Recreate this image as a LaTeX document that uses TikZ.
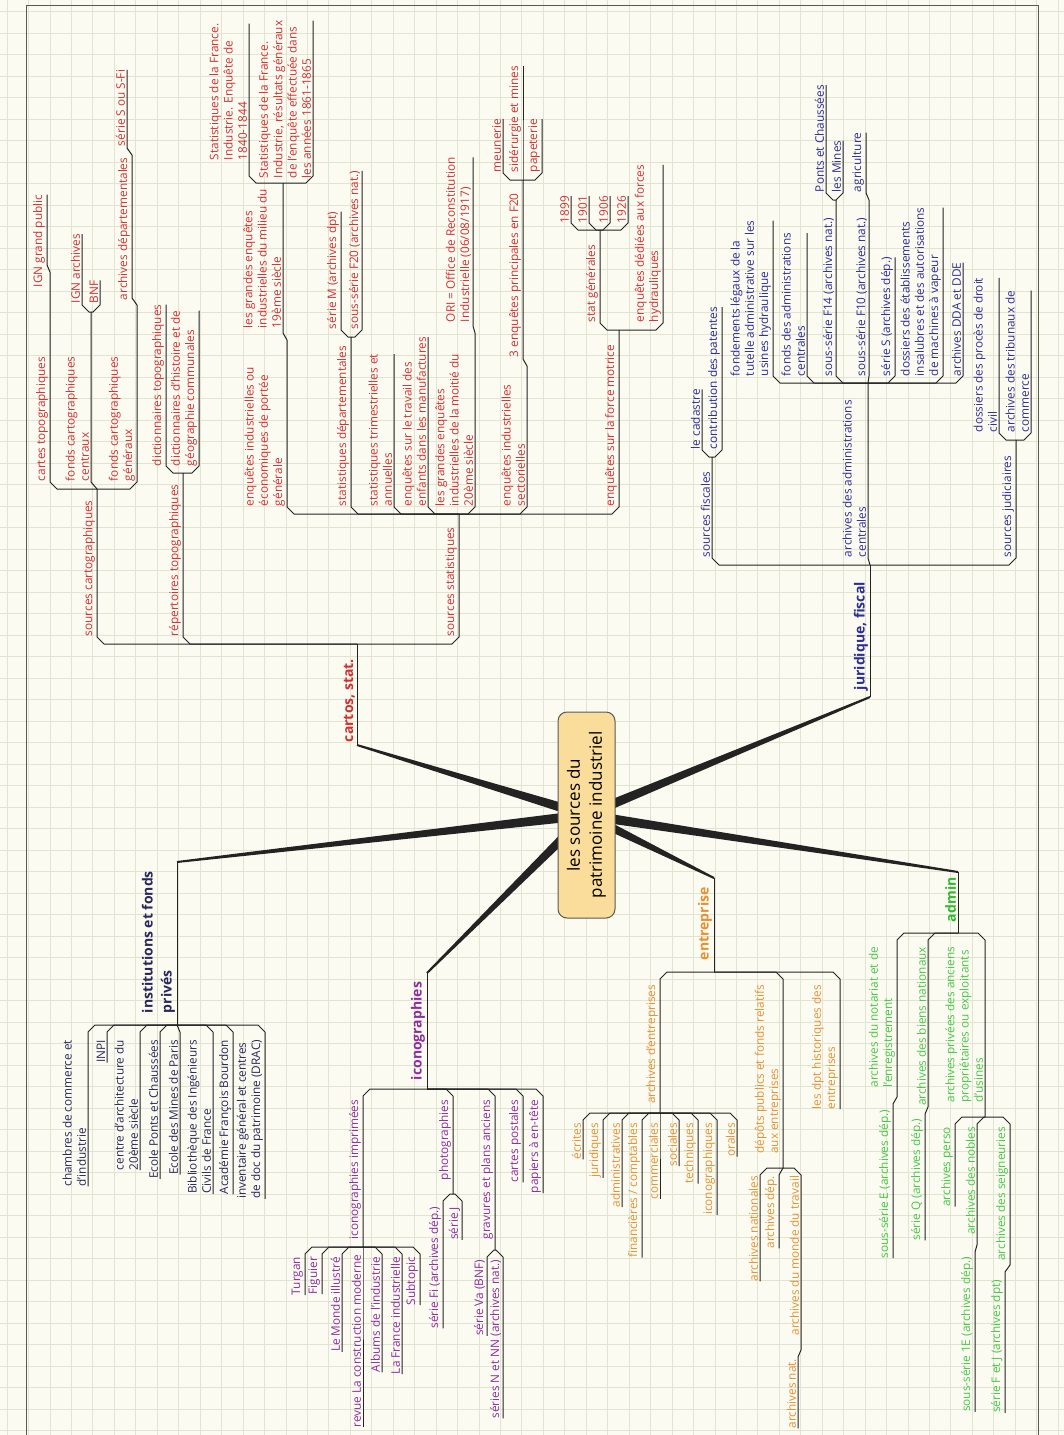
\documentclass[tikz,border=0pt]{standalone}
\usepackage{fontspec}
\setmainfont{Open Sans}
\usetikzlibrary{calc}
\definecolor{cRed}{RGB}{205,50,50}
\definecolor{cNavy}{RGB}{45,45,150}
\definecolor{cDark}{RGB}{40,40,90}
\definecolor{cPurp}{RGB}{140,45,160}
\definecolor{cOr}{RGB}{228,145,50}
\definecolor{cGr}{RGB}{70,200,70}
\definecolor{cGrD}{RGB}{50,185,50}
\definecolor{bgcol}{RGB}{252,251,241}
\definecolor{gridcol}{RGB}{224,228,208}
\definecolor{lncol}{RGB}{35,35,35}
\definecolor{framecol}{RGB}{90,90,80}
\definecolor{centfill}{RGB}{250,220,155}
\newcommand\tpfont{\fontsize{11.8}{14.3}\selectfont}
\newcommand\mnfont{\fontsize{14}{19}\selectfont\bfseries}
\tikzset{
  cline/.style={draw=lncol,line width=1pt,line join=round},
  topic/.style={rotate=90,inner sep=0pt,outer sep=0pt,align=left,font=\tpfont},
  maintopic/.style={topic,font=\mnfont},
}
\newcommand\conn[5]{%
  \pgfmathsetmacro\cdx{#3-(#1)}%
  \pgfmathsetmacro\csg{(\cdx>7.5)-(\cdx<-7.5)}%
  \pgfmathsetmacro\cxa{ifthenelse(\csg==0,#1,#3-7*\csg)}%
  \pgfmathsetmacro\cyb{#2+7*(#5)}%
  \draw[cline] (#1,#2) -- (\cxa,#2) -- (#3,\cyb) -- (#3,#4);}
\newcommand\connE[5]{%
  \pgfmathsetmacro\cdx{#3-(#1)}%
  \pgfmathsetmacro\csg{(\cdx>7.5)-(\cdx<-7.5)}%
  \pgfmathsetmacro\cxa{ifthenelse(\csg==0,#1,#3-7*\csg)}%
  \pgfmathsetmacro\cyb{#2+7*(#4)}%
  \draw[cline] (#1,#2) -- (\cxa,#2) -- (#3,\cyb) -- (#3,0 |- #5);}
\newcommand\LU[7]{%
  \node[topic,text=#6,anchor=south west] (#1) at ({#4-2},#5) {#7};
  \connE{#2}{#3}{#4}{-1}{#1.south east}}
\newcommand\LL[7]{%
  \node[topic,text=#6,anchor=south east] (#1) at ({#4-2},#5) {#7};
  \connE{#2}{#3}{#4}{1}{#1.south west}}
\newcommand\PU[8]{%
  \node[topic,text=#7,anchor=south west] (#1) at ({#4-2},#5) {#8};
  \conn{#2}{#3}{#4}{#6}{-1}}
\newcommand\PL[8]{%
  \node[topic,text=#7,anchor=south east] (#1) at ({#4-2},#5) {#8};
  \conn{#2}{#3}{#4}{#6}{1}}
\newcommand\spoke[2]{%
  \fill[lncol] ($(#1)!5pt!90:(#2)$) -- ($(#2)!1pt!-90:(#1)$) -- ($(#2)!1pt!90:(#1)$) -- ($(#1)!5pt!-90:(#2)$) -- cycle;}
\begin{document}
\begin{tikzpicture}[x=1pt,y=-1pt]
\useasboundingbox (0,0) rectangle (1064,1435);
\fill[bgcol] (0,0) rectangle (1064,1435);
\foreach \i in {0,...,49} {\draw[gridcol,line width=0.7pt] ({7+21.45*\i},0) -- ({7+21.45*\i},1435);}
\foreach \j in {0,...,66} {\draw[gridcol,line width=0.7pt] (0,{11.5+21.5*\j}) -- (1064,{11.5+21.5*\j});}
\draw[framecol,line width=1pt] (26,1435) -- (26,5) -- (1038,5) -- (1038,1435);

% spokes
\coordinate (c0) at (586,815);
\coordinate (eCartos) at (357,745);
\coordinate (eJur) at (870,697);
\coordinate (eInst) at (177,862);
\coordinate (eIcon) at (427,973);
\coordinate (eEnt) at (714,878);
\coordinate (eAdm) at (958,872);
\foreach \e in {eCartos,eJur,eInst,eIcon,eEnt,eAdm} {\spoke{c0}{\e}}

% ===== cartos, stat.
\node[maintopic,text=cRed,anchor=south west] (cartos) at (355,742) {cartos, stat.};
\draw[cline] (eCartos) -- (357,644);
\PU{srccarto}{357}{644}{97}{636}{489}{cRed}{sources cartographiques}
\PU{reptopo}{357}{644}{183}{636}{473}{cRed}{répertoires topographiques}
\PU{srcstat}{357}{644}{459}{636}{514}{cRed}{sources statistiques}
\PU{cartetopo}{97}{489}{50}{481}{272}{cRed}{cartes topographiques}
\PU{fondscent}{97}{489}{91}{481}{312}{cRed}{fonds cartographiques\\centraux}
\PU{fondsgen}{97}{489}{137}{481}{305}{cRed}{fonds cartographiques\\généraux}
\LU{igngp}{50}{272}{47}{287}{cRed}{IGN grand public}
\LU{ignarch}{91}{312}{82}{303}{cRed}{IGN archives}
\LU{bnf}{91}{312}{100}{303}{cRed}{BNF}
\PU{archdep}{137}{305}{132}{300}{155}{cRed}{archives départementales}
\LU{serieS}{132}{155}{127}{146}{cRed}{série S ou S-Fi}
\LU{dicttopo}{183}{473}{166}{466}{cRed}{dictionnaires topographiques}
\LU{dicthist}{183}{473}{199}{466}{cRed}{dictionnaires d'histoire et de\\géographie communales}
\PU{enqind}{459}{514}{287}{506}{340}{cRed}{enquêtes industrielles ou\\économiques de portée\\générale}
\PU{statdep}{459}{514}{351}{506}{337}{cRed}{statistiques départementales}
\LU{stattri}{459}{514}{394}{506}{cRed}{statistiques trimestrielles et\\annuelles}
\LU{enqenf}{459}{514}{428}{506}{cRed}{enquêtes sur le travail des\\enfants dans les manufactures}
\PU{grvingt}{459}{514}{475}{506}{333}{cRed}{les grandes enquêtes\\industrielles de la moitié du\\20ème siècle}
\PU{enqsect}{459}{514}{527}{506}{366}{cRed}{enquêtes industrielles\\sectorielles}
\PU{enqforce}{459}{514}{619}{506}{330}{cRed}{enquêtes sur la force motrice}
\PU{grdixneuf}{287}{340}{283}{328}{183}{cRed}{les grandes enquêtes\\industrielles du milieu du\\19ème siècle}
\LU{statA}{283}{183}{249}{160}{cRed}{Statistiques de la France.\\Industrie. Enquête de\\1840-1844}
\LU{statB}{283}{183}{313}{178}{cRed}{Statistiques de la France.\\Industrie, résultats généraux\\de l'enquête effectuée dans\\les années 1861-1865}
\LU{serieM}{351}{337}{341}{329}{cRed}{série M (archives dpt)}
\LU{fvingt}{351}{337}{362}{329}{cRed}{sous-série F20 (archives nat.)}
\LU{ori}{475}{333}{473}{322}{cRed}{ORI = Office de Reconstitution\\Industrielle (06/08/1917)}
\PU{trois}{527}{366}{523}{357}{180}{cRed}{3 enquêtes principales en F20}
\LU{meun}{523}{180}{503}{172}{cRed}{meunerie}
\LU{sider}{523}{180}{523}{172}{cRed}{sidérurgie et mines}
\LU{pap}{523}{180}{542}{172}{cRed}{papeterie}
\PU{statgen}{619}{330}{600}{322}{230}{cRed}{stat générales}
\LU{hydr}{619}{330}{663}{322}{cRed}{enquêtes dédiées aux forces\\hydrauliques}
\LU{ya}{600}{230}{571}{223}{cRed}{1899}
\LU{yb}{600}{230}{589}{223}{cRed}{1901}
\LU{yc}{600}{230}{610}{223}{cRed}{1906}
\LU{yd}{600}{230}{628}{223}{cRed}{1926}

% ===== juridique, fiscal
\node[maintopic,text=cNavy,anchor=south west] (jur) at (868,690) {juridique, fiscal};
\draw[cline] (eJur) -- (870,565);
\PU{srcfisc}{870}{565}{712}{557}{457}{cNavy}{sources fiscales}
\PU{archadm}{870}{565}{868}{557}{383}{cNavy}{archives des administrations\\centrales}
\PU{srcjud}{870}{565}{1016}{557}{440}{cNavy}{sources judiciaires}
\LU{cadastre}{712}{457}{702}{449}{cNavy}{le cadastre}
\LU{patentes}{712}{457}{722}{449}{cNavy}{contribution des patentes}
\LU{fondem}{868}{383}{773}{376}{cNavy}{fondements légaux de la\\tutelle administrative sur les\\usines hydraulique}
\LU{fondsadm}{868}{383}{807}{376}{cNavy}{fonds des administrations\\centrales}
\PU{fquatorze}{868}{383}{836}{376}{200}{cNavy}{sous-série F14 (archives nat.)}
\PU{fdix}{868}{383}{869}{376}{200}{cNavy}{sous-série F10 (archives nat.)}
\LU{serieSd}{868}{383}{895}{376}{cNavy}{série S (archives dép.)}
\LU{dossetab}{868}{383}{943}{376}{cNavy}{dossiers des établissements\\insalubres et des autorisations\\de machines à vapeur}
\LU{dda}{868}{383}{963}{376}{cNavy}{archives DDA et DDE}
\LU{ponts}{836}{200}{826}{192}{cNavy}{Ponts et Chaussées}
\LU{mines}{836}{200}{843}{192}{cNavy}{les Mines}
\LU{agri}{869}{200}{866}{192}{cNavy}{agriculture}
\LU{proces}{1016}{440}{999}{432}{cNavy}{dossiers des procès de droit\\civil}
\LU{tribu}{1016}{440}{1031}{432}{cNavy}{archives des tribunaux de\\commerce}

% ===== institutions et fonds privés
\node[maintopic,text=cDark,anchor=south west] (inst) at (175,1013) {institutions et fonds\\privés};
\draw[cline] (eInst) -- (177,1025);
\LL{chambres}{177}{1025}{88}{1040}{cDark}{chambres de commerce et\\d'industrie}
\LL{inpi}{177}{1025}{107}{1040}{cDark}{INPI}
\LL{centrearch}{177}{1025}{140}{1040}{cDark}{centre d'architecture du\\20ème siècle}
\LL{ecoleponts}{177}{1025}{160}{1040}{cDark}{Ecole Ponts et Chaussées}
\LL{ecolemines}{177}{1025}{180}{1040}{cDark}{Ecole des Mines de Paris}
\LL{biblio}{177}{1025}{213}{1040}{cDark}{Bibliothèque des Ingénieurs\\Civils de France}
\LL{academie}{177}{1025}{233}{1040}{cDark}{Académie François Bourdon}
\LL{inventaire}{177}{1025}{265}{1040}{cDark}{inventaire général et centres\\de doc du patrimoine (DRAC)}

% ===== iconographies
\node[maintopic,text=cPurp,anchor=south west] (icon) at (425,1080) {iconographies};
\draw[cline] (eIcon) -- (427,1089);
\PL{iconimpr}{427}{1089}{363}{1100}{1247}{cPurp}{iconographies imprimées}
\PL{photos}{427}{1089}{453}{1100}{1194}{cPurp}{photographies}
\PL{gravures}{427}{1089}{495}{1100}{1250}{cPurp}{gravures et plans anciens}
\LL{cartespost}{427}{1089}{523}{1100}{cPurp}{cartes postales}
\LL{papiers}{427}{1089}{543}{1100}{cPurp}{papiers à en-tête}
\LL{turgan}{363}{1247}{305}{1257}{cPurp}{Turgan}
\LL{figuier}{363}{1247}{322}{1257}{cPurp}{Figuier}
\LL{monde}{363}{1247}{342}{1257}{cPurp}{Le Monde illustré}
\LL{revue}{363}{1247}{363}{1255}{cPurp}{revue La construction moderne}
\LL{albums}{363}{1247}{382}{1257}{cPurp}{Albums de l'industrie}
\LL{france}{363}{1247}{402}{1257}{cPurp}{La France industrielle}
\LL{subtopic}{363}{1247}{420}{1257}{cPurp}{Subtopic}
\LL{serieFi}{453}{1194}{443}{1207}{cPurp}{série Fi (archives dép.)}
\LL{serieJ}{453}{1194}{462}{1207}{cPurp}{série J}
\LL{serieVa}{495}{1250}{487}{1260}{cPurp}{série Va (BNF)}
\LL{seriesN}{495}{1250}{503}{1260}{cPurp}{séries N et NN (archives nat.)}

% ===== entreprise
\node[maintopic,text=cOr,anchor=south west] (ent) at (712,960) {entreprise};
\draw[cline] (eEnt) -- (714,972);
\PL{archent}{714}{972}{660}{985}{1113}{cOr}{archives d'entreprises}
\PL{depots}{714}{972}{783}{985}{1168}{cOr}{dépôts publics et fonds relatifs\\aux entreprises}
\LL{dpthist}{714}{972}{840}{985}{cOr}{les dpt historiques des\\entreprises}
\LL{ecrites}{660}{1113}{583}{1123}{cOr}{écrites}
\LL{jurid}{660}{1113}{603}{1123}{cOr}{juridiques}
\LL{adminis}{660}{1113}{622}{1123}{cOr}{administratives}
\LL{financ}{660}{1113}{642}{1123}{cOr}{financières / comptables}
\LL{commerc}{660}{1113}{660}{1123}{cOr}{commerciales}
\LL{sociales}{660}{1113}{679}{1123}{cOr}{sociales}
\LL{techn}{660}{1113}{698}{1123}{cOr}{techniques}
\LL{iconog}{660}{1113}{717}{1123}{cOr}{iconographiques}
\LL{orales}{660}{1113}{737}{1123}{cOr}{orales}
\LL{archnat}{783}{1168}{760}{1176}{cOr}{archives nationales}
\LL{archdepE}{783}{1168}{779}{1176}{cOr}{archives dép.}
\PL{mondetrav}{783}{1168}{801}{1176}{1350}{cOr}{archives du monde du travail}
\LL{archnatB}{801}{1350}{798}{1359}{cOr}{archives nat.}

% ===== admin
\node[maintopic,text=cGrD,anchor=south west] (adm) at (956,922) {admin};
\draw[cline] (eAdm) -- (958,933);
\PL{notariat}{958}{933}{897}{947}{1097}{cGr}{archives du notariat et de\\l'enregistrement}
\PL{biens}{958}{933}{928}{947}{1107}{cGr}{archives des biens nationaux}
\PL{privees}{958}{933}{985}{947}{1117}{cGr}{archives privées des anciens\\propriétaires ou exploitants\\d'usines}
\LL{serieE}{897}{1097}{893}{1110}{cGr}{sous-série E (archives dép.)}
\LL{serieQ}{928}{1107}{925}{1119}{cGr}{série Q (archives dép.)}
\LL{perso}{985}{1117}{955}{1127}{cGr}{archives perso}
\PL{nobles}{985}{1117}{977}{1127}{1245}{cGr}{archives des nobles}
\PL{seign}{985}{1117}{1010}{1127}{1265}{cGr}{archives des seigneuries}
\LL{serieIE}{977}{1245}{975}{1257}{cGr}{sous-série 1E (archives dép.)}
\LL{serieFJ}{1010}{1265}{1005}{1280}{cGr}{série F et J (archives dpt)}

% ===== center
\node[draw=framecol,fill=centfill,rounded corners=9pt,rotate=90,minimum width=206pt,minimum height=57pt,align=center,font=\fontsize{17}{22}\selectfont,line width=1pt] (center) at (586.5,815) {les sources du\\patrimoine industriel};
\end{tikzpicture}
\end{document}
